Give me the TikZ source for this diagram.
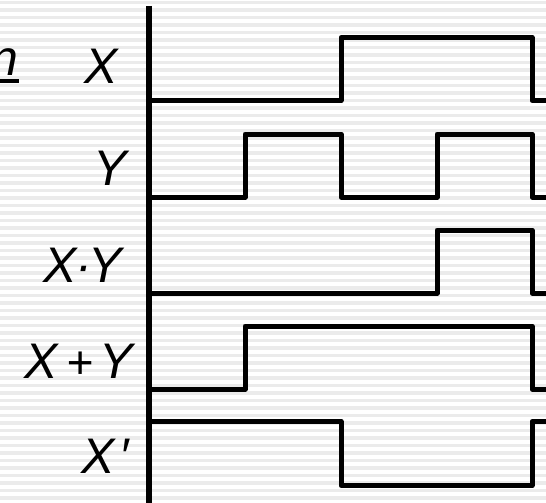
\documentclass[tikz,border=0pt]{standalone}
\usepackage{fontspec}
\setsansfont{Liberation Sans}
\usetikzlibrary{positioning}
\definecolor{stripeGray}{HTML}{EBEBEB}
\tikzset{
  font=\sffamily,
  signal/.style={draw=black, line width=5pt, line join=round},
  axis/.style={draw=black, line width=6pt},
  sigLabel/.style={font=\sffamily\itshape\fontsize{50}{60}\selectfont, anchor=base, inner sep=0pt},
  heading/.style={font=\sffamily\itshape\fontsize{50}{60}\selectfont, anchor=base east, inner sep=0pt}
}

\begin{document}
\begin{tikzpicture}[x=1pt,y=-1pt]
\useasboundingbox (0,0) rectangle (546,503);
\clip (0,0) rectangle (546,503);

% striped background
\fill[white] (0,0) rectangle (546,503);
\foreach \i in {0,...,67}
  \fill[stripeGray] (0,7.5*\i+1) rectangle (546,7.5*\i+4.5);

% clipped heading at the left edge
\node[heading] (heading) at (19,75) {n};
\draw[line width=4pt] ([yshift=-6pt]heading.base west) -- ([yshift=-6pt]heading.base east);

% labels
\node[sigLabel] (lblX)   at (101,83)  {X};
\node[sigLabel] (lblY)   at (110,185) {Y};
\node[sigLabel] (lblXY)  at (83,282)  {X\kern-2pt·\kern-3pt Y};
\node[sigLabel] (lblXpY) at (79,378)  {X\kern8pt{\fontsize{46}{60}\selectfont+}\kern7pt Y};
\node[sigLabel] (lblXn)  at (105,473) {X\kern5pt′};

% time axis
\draw[axis] (149,6) -- (149,510);

% waveforms
\draw[signal] (149,100.5) -- (341,100.5) -- (341,37.5) -- (532,37.5) -- (532,100.5) -- (560,100.5);
\draw[signal] (149,197) -- (245,197) -- (245,134) -- (341,134) -- (341,197) -- (437,197) -- (437,134) -- (532,134) -- (532,197) -- (560,197);
\draw[signal] (149,293) -- (437,293) -- (437,230) -- (532,230) -- (532,293) -- (560,293);
\draw[signal] (149,389) -- (245,389) -- (245,326) -- (532,326) -- (532,389) -- (560,389);
\draw[signal] (149,421.5) -- (341,421.5) -- (341,485.5) -- (532,485.5) -- (532,421.5) -- (560,421.5);

\end{tikzpicture}
\end{document}
